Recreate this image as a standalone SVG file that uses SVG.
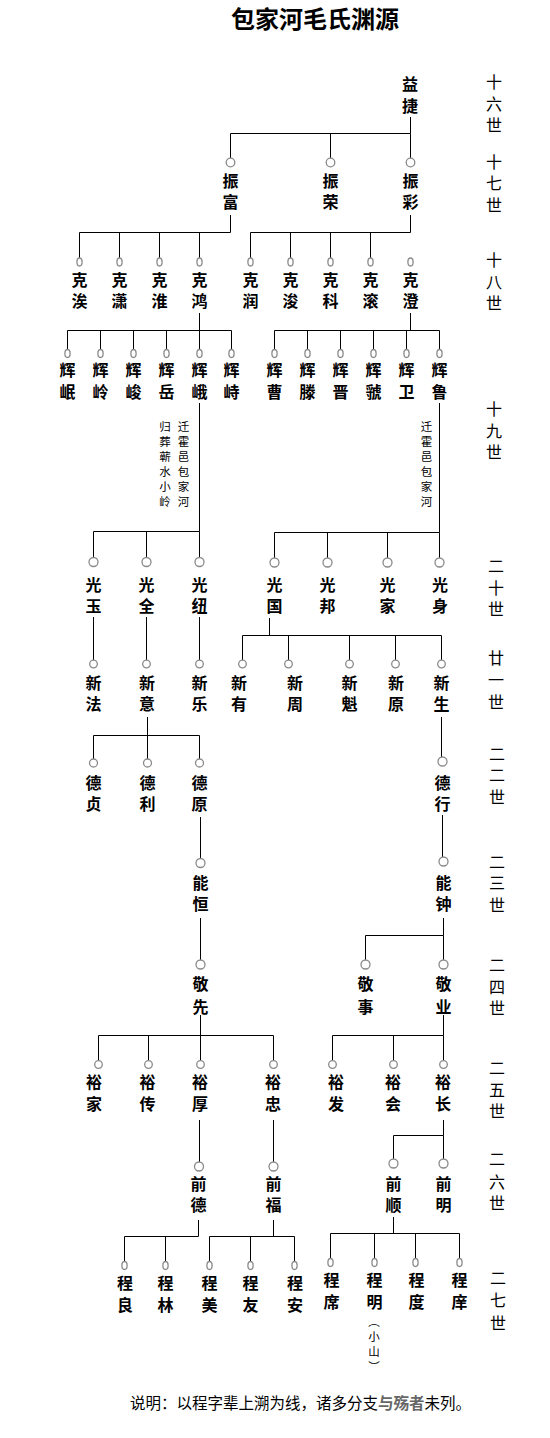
<svg xmlns="http://www.w3.org/2000/svg" width="550" height="1438" viewBox="0 0 550 1438">
<style>
text{font-family:"Noto Sans CJK SC","Noto Sans CJK TC",sans-serif;fill:#000;text-anchor:middle}
.t{font-size:24px;font-weight:700}
.n{font-size:16px;font-weight:700}
.g{font-size:16px;font-weight:400}
.a{font-size:11.5px;font-weight:400}
.s{font-size:11.5px;font-weight:400}
.note{font-size:15.5px;font-weight:400;text-anchor:start}
.gr{fill:#666;font-weight:700}
.c{fill:#fff;stroke:#8a8a8a;stroke-width:1.3}
.l{stroke:#000;stroke-width:1;fill:none}
</style>
<rect width="550" height="1438" fill="#fff"/>
<text class="t" x="315" y="28">包家河毛氏渊源</text>

<g id="generations">
<text class="g" x="494" y="88">十<tspan x="494" y="109.5">六</tspan><tspan x="494" y="131">世</tspan></text>
<text class="g" x="494" y="167.5">十<tspan x="494" y="189">七</tspan><tspan x="494" y="210.5">世</tspan></text>
<text class="g" x="494" y="266">十<tspan x="494" y="287.5">八</tspan><tspan x="494" y="309">世</tspan></text>
<text class="g" x="494" y="415">十<tspan x="494" y="436.5">九</tspan><tspan x="494" y="458">世</tspan></text>
<text class="g" x="496" y="572">二<tspan x="496" y="593.5">十</tspan><tspan x="496" y="615">世</tspan></text>
<text class="g" x="496" y="664">廿<tspan x="496" y="686">一</tspan><tspan x="496" y="708">世</tspan></text>
<text class="g" x="497" y="759.5">二<tspan x="497" y="781">二</tspan><tspan x="497" y="802.5">世</tspan></text>
<text class="g" x="497" y="867.5">二<tspan x="497" y="889">三</tspan><tspan x="497" y="910.5">世</tspan></text>
<text class="g" x="497" y="971">二<tspan x="497" y="992.5">四</tspan><tspan x="497" y="1014">世</tspan></text>
<text class="g" x="497" y="1074">二<tspan x="497" y="1095.5">五</tspan><tspan x="497" y="1117">世</tspan></text>
<text class="g" x="497" y="1165">二<tspan x="497" y="1187.5">六</tspan><tspan x="497" y="1209">世</tspan></text>
<text class="g" x="498" y="1284">二<tspan x="498" y="1306">七</tspan><tspan x="498" y="1329">世</tspan></text>
</g>

<g id="connectors">
<path class="l" d="M410.5 117V133.5M230.5 133.5H410.5M230.5 133.5V158M330.5 133.5V158M410.5 133.5V158"/>
<path class="l" d="M230.5 215V232.5M79.5 232.5H230.5M79.5 232.5V258M119.5 232.5V258M159.5 232.5V258M199.5 232.5V258"/>
<path class="l" d="M410.5 215V232.5M250.5 232.5H410.5M250.5 232.5V258M290.5 232.5V258M330.5 232.5V258M370.5 232.5V258"/>
<path class="l" d="M199.5 313V330.5M67.5 330.5H231.5M67.5 330.5V349.5M100.5 330.5V349.5M133.5 330.5V349.5M166.5 330.5V349.5M199.5 330.5V349.5M231.5 330.5V349.5"/>
<path class="l" d="M410.5 313V330.5M274.5 330.5H439.5M274.5 330.5V349.5M307.5 330.5V349.5M340.5 330.5V349.5M373.5 330.5V349.5M406.5 330.5V349.5M439.5 330.5V349.5"/>
<path class="l" d="M199.5 403V531.5M93.5 531.5H199.5M93.5 531.5V557.5M146.5 531.5V557.5M199.5 531.5V557.5"/>
<path class="l" d="M439.5 403V532.5M274.5 532.5H439.5M274.5 532.5V558M327.5 532.5V558M387.5 532.5V558M439.5 532.5V558"/>
<path class="l" d="M93.5 617V660M146.5 617V660M199.5 617V660"/>
<path class="l" d="M269.5 618V635.5M242.5 635.5H441.5M242.5 635.5V660M288.5 635.5V660M349.5 635.5V660M395.5 635.5V660M441.5 635.5V660"/>
<path class="l" d="M147.5 717V735.5M93.5 735.5H199.5M93.5 735.5V759M147.5 735.5V759M199.5 735.5V759"/>
<path class="l" d="M441.5 717V757"/>
<path class="l" d="M200.5 817V858.5M442.5 815V857"/>
<path class="l" d="M200.5 918V960"/>
<path class="l" d="M443.5 918V935.5M365.5 935.5H443.5M365.5 935.5V960M443.5 935.5V960"/>
<path class="l" d="M200.5 1015V1035.5M98.5 1035.5H273.5M98.5 1035.5V1060.5M148.5 1035.5V1060.5M200.5 1035.5V1060.5M273.5 1035.5V1060.5"/>
<path class="l" d="M443.5 1015V1035.5M332.5 1035.5H443.5M332.5 1035.5V1060.5M393.5 1035.5V1060.5M443.5 1035.5V1060.5"/>
<path class="l" d="M199.5 1120V1162M273.5 1120V1162"/>
<path class="l" d="M443.5 1120V1135.5M393.5 1135.5H443.5M393.5 1135.5V1159M443.5 1135.5V1159"/>
<path class="l" d="M198.5 1220V1236.5M124.5 1236.5H198.5M124.5 1236.5V1261.5M165.5 1236.5V1261.5"/>
<path class="l" d="M273.5 1220V1236.5M209.5 1236.5H294.5M209.5 1236.5V1261.5M250.5 1236.5V1261.5M294.5 1236.5V1261.5"/>
<path class="l" d="M393.5 1217V1233.5M330.5 1233.5H459.5M330.5 1233.5V1258.5M374.5 1233.5V1258.5M415.5 1233.5V1258.5M459.5 1233.5V1258.5"/>
</g>

<g id="n-yijie"><text class="n" x="410" y="90">益<tspan x="410" y="111.5">捷</tspan></text></g>

<g id="n-zhenfu"><circle class="c" cx="230.5" cy="162.5" r="4.3"/><text class="n" x="230.5" y="186.5">振<tspan x="230.5" y="208">富</tspan></text></g>
<g id="n-zhenrong"><circle class="c" cx="330.5" cy="162.5" r="4.3"/><text class="n" x="330.5" y="186.5">振<tspan x="330.5" y="208">荣</tspan></text></g>
<g id="n-zhencai"><circle class="c" cx="410.5" cy="162.5" r="4.3"/><text class="n" x="410.5" y="186.5">振<tspan x="410.5" y="208">彩</tspan></text></g>

<g id="n-kesi"><ellipse class="c" cx="79.5" cy="262" rx="2.6" ry="4"/><text class="n" x="79.5" y="285.5">克<tspan x="79.5" y="307">涘</tspan></text></g>
<g id="n-kexiao"><ellipse class="c" cx="119.5" cy="262" rx="2.6" ry="4"/><text class="n" x="119.5" y="285.5">克<tspan x="119.5" y="307">潇</tspan></text></g>
<g id="n-kehuai"><ellipse class="c" cx="159.5" cy="262" rx="2.6" ry="4"/><text class="n" x="159.5" y="285.5">克<tspan x="159.5" y="307">淮</tspan></text></g>
<g id="n-kehong"><ellipse class="c" cx="199.5" cy="262" rx="2.6" ry="4"/><text class="n" x="199.5" y="285.5">克<tspan x="199.5" y="307">鸿</tspan></text></g>
<g id="n-kerun"><ellipse class="c" cx="250.5" cy="262" rx="2.6" ry="4"/><text class="n" x="250.5" y="285.5">克<tspan x="250.5" y="307">润</tspan></text></g>
<g id="n-kejun"><ellipse class="c" cx="290.5" cy="262" rx="2.6" ry="4"/><text class="n" x="290.5" y="285.5">克<tspan x="290.5" y="307">浚</tspan></text></g>
<g id="n-keke"><ellipse class="c" cx="330.5" cy="262" rx="2.6" ry="4"/><text class="n" x="330.5" y="285.5">克<tspan x="330.5" y="307">科</tspan></text></g>
<g id="n-kegun"><ellipse class="c" cx="370.5" cy="262" rx="2.6" ry="4"/><text class="n" x="370.5" y="285.5">克<tspan x="370.5" y="307">滚</tspan></text></g>
<g id="n-kecheng"><ellipse class="c" cx="410.5" cy="262" rx="2.6" ry="4"/><text class="n" x="410.5" y="285.5">克<tspan x="410.5" y="307">澄</tspan></text></g>

<g id="n-huimin"><ellipse class="c" cx="67.5" cy="353.5" rx="2.6" ry="4"/><text class="n" x="67.5" y="376">辉<tspan x="67.5" y="397.5">岷</tspan></text></g>
<g id="n-huiling"><ellipse class="c" cx="100.5" cy="353.5" rx="2.6" ry="4"/><text class="n" x="100.5" y="376">辉<tspan x="100.5" y="397.5">岭</tspan></text></g>
<g id="n-huijun"><ellipse class="c" cx="133.5" cy="353.5" rx="2.6" ry="4"/><text class="n" x="133.5" y="376">辉<tspan x="133.5" y="397.5">峻</tspan></text></g>
<g id="n-huiyue"><ellipse class="c" cx="166.5" cy="353.5" rx="2.6" ry="4"/><text class="n" x="166.5" y="376">辉<tspan x="166.5" y="397.5">岳</tspan></text></g>
<g id="n-huie"><ellipse class="c" cx="199.5" cy="353.5" rx="2.6" ry="4"/><text class="n" x="199.5" y="376">辉<tspan x="199.5" y="397.5">峨</tspan></text></g>
<g id="n-huizhi"><ellipse class="c" cx="231.5" cy="353.5" rx="2.6" ry="4"/><text class="n" x="231.5" y="376">辉<tspan x="231.5" y="397.5">峙</tspan></text></g>
<g id="n-huicao"><ellipse class="c" cx="274.5" cy="353.5" rx="2.6" ry="4"/><text class="n" x="274.5" y="376">辉<tspan x="274.5" y="397.5">曹</tspan></text></g>
<g id="n-huiteng"><ellipse class="c" cx="307.5" cy="353.5" rx="2.6" ry="4"/><text class="n" x="307.5" y="376">辉<tspan x="307.5" y="397.5">滕</tspan></text></g>
<g id="n-huijin"><ellipse class="c" cx="340.5" cy="353.5" rx="2.6" ry="4"/><text class="n" x="340.5" y="376">辉<tspan x="340.5" y="397.5">晋</tspan></text></g>
<g id="n-huiguo"><ellipse class="c" cx="373.5" cy="353.5" rx="2.6" ry="4"/><text class="n" x="373.5" y="376">辉<tspan x="373.5" y="397.5">虢</tspan></text></g>
<g id="n-huiwei"><ellipse class="c" cx="406.5" cy="353.5" rx="2.6" ry="4"/><text class="n" x="406.5" y="376">辉<tspan x="406.5" y="397.5">卫</tspan></text></g>
<g id="n-huilu"><ellipse class="c" cx="439.5" cy="353.5" rx="2.6" ry="4"/><text class="n" x="439.5" y="376">辉<tspan x="439.5" y="397.5">鲁</tspan></text></g>

<g id="notes-19">
<text class="a" x="183.5" y="430.5">迁<tspan x="183.5" y="445.5">霍</tspan><tspan x="183.5" y="460.5">邑</tspan><tspan x="183.5" y="475.5">包</tspan><tspan x="183.5" y="490.5">家</tspan><tspan x="183.5" y="505.5">河</tspan></text>
<text class="a" x="165" y="430.5">归<tspan x="165" y="445.5">葬</tspan><tspan x="165" y="460.5">蕲</tspan><tspan x="165" y="475.5">水</tspan><tspan x="165" y="490.5">小</tspan><tspan x="165" y="505.5">岭</tspan></text>
<text class="a" x="426.5" y="430.5">迁<tspan x="426.5" y="445.5">霍</tspan><tspan x="426.5" y="460.5">邑</tspan><tspan x="426.5" y="475.5">包</tspan><tspan x="426.5" y="490.5">家</tspan><tspan x="426.5" y="505.5">河</tspan></text>
</g>

<g id="n-guangyu"><circle class="c" cx="93.5" cy="562" r="4.5"/><text class="n" x="93.5" y="590.5">光<tspan x="93.5" y="612">玉</tspan></text></g>
<g id="n-guangquan"><circle class="c" cx="146.5" cy="562" r="4.5"/><text class="n" x="146.5" y="590.5">光<tspan x="146.5" y="612">全</tspan></text></g>
<g id="n-guangniu"><circle class="c" cx="199.5" cy="562" r="4.5"/><text class="n" x="199.5" y="590.5">光<tspan x="199.5" y="612">纽</tspan></text></g>
<g id="n-guangguo"><circle class="c" cx="274.5" cy="562.5" r="4.5"/><text class="n" x="274.5" y="590.5">光<tspan x="274.5" y="612">国</tspan></text></g>
<g id="n-guangbang"><circle class="c" cx="327.5" cy="562.5" r="4.5"/><text class="n" x="327.5" y="590.5">光<tspan x="327.5" y="612">邦</tspan></text></g>
<g id="n-guangjia"><circle class="c" cx="387.5" cy="562.5" r="4.5"/><text class="n" x="387.5" y="590.5">光<tspan x="387.5" y="612">家</tspan></text></g>
<g id="n-guangshen"><circle class="c" cx="439.5" cy="562.5" r="4.5"/><text class="n" x="440" y="590.5">光<tspan x="440" y="612">身</tspan></text></g>

<g id="n-xinfa"><circle class="c" cx="93.5" cy="664" r="3.8"/><text class="n" x="93.5" y="688.5">新<tspan x="93.5" y="710">法</tspan></text></g>
<g id="n-xinyi"><circle class="c" cx="146.5" cy="664" r="3.8"/><text class="n" x="147" y="688.5">新<tspan x="147" y="710">意</tspan></text></g>
<g id="n-xinle"><circle class="c" cx="199.5" cy="664" r="3.8"/><text class="n" x="199.5" y="688.5">新<tspan x="199.5" y="710">乐</tspan></text></g>
<g id="n-xinyou"><circle class="c" cx="242.5" cy="664" r="3.8"/><text class="n" x="239" y="688.5">新<tspan x="239" y="710">有</tspan></text></g>
<g id="n-xinzhou"><circle class="c" cx="288.5" cy="664" r="3.8"/><text class="n" x="295" y="688.5">新<tspan x="295" y="710">周</tspan></text></g>
<g id="n-xinkui"><circle class="c" cx="349.5" cy="664" r="3.8"/><text class="n" x="349.5" y="688.5">新<tspan x="349.5" y="710">魁</tspan></text></g>
<g id="n-xinyuan"><circle class="c" cx="395.5" cy="664" r="3.8"/><text class="n" x="396" y="688.5">新<tspan x="396" y="710">原</tspan></text></g>
<g id="n-xinsheng"><circle class="c" cx="441.5" cy="664" r="3.8"/><text class="n" x="441.5" y="688.5">新<tspan x="441.5" y="710">生</tspan></text></g>

<g id="n-dezhen"><circle class="c" cx="93.5" cy="763" r="4"/><text class="n" x="93.5" y="788.5">德<tspan x="93.5" y="810">贞</tspan></text></g>
<g id="n-deli"><circle class="c" cx="147.5" cy="763" r="4"/><text class="n" x="147.5" y="788.5">德<tspan x="147.5" y="810">利</tspan></text></g>
<g id="n-deyuan"><circle class="c" cx="199.5" cy="763" r="4"/><text class="n" x="199.5" y="788.5">德<tspan x="199.5" y="810">原</tspan></text></g>
<g id="n-dexing"><circle class="c" cx="442.5" cy="761.5" r="4.5"/><text class="n" x="442.5" y="788.5">德<tspan x="442.5" y="810">行</tspan></text></g>

<g id="n-nengheng"><circle class="c" cx="200.5" cy="863" r="4.5"/><text class="n" x="200.5" y="888.5">能<tspan x="200.5" y="910">恒</tspan></text></g>
<g id="n-nengzhong"><circle class="c" cx="443.5" cy="861.5" r="4.5"/><text class="n" x="443.5" y="888.5">能<tspan x="443.5" y="910">钟</tspan></text></g>

<g id="n-jingxian"><circle class="c" cx="200.5" cy="964.5" r="4.5"/><text class="n" x="200.5" y="990">敬<tspan x="200.5" y="1013">先</tspan></text></g>
<g id="n-jingshi"><circle class="c" cx="365.5" cy="964.5" r="4.5"/><text class="n" x="365.5" y="990">敬<tspan x="365.5" y="1013">事</tspan></text></g>
<g id="n-jingye"><circle class="c" cx="443.5" cy="964.5" r="4.5"/><text class="n" x="443.5" y="990">敬<tspan x="443.5" y="1013">业</tspan></text></g>

<g id="n-yujia"><circle class="c" cx="98.5" cy="1064.5" r="3.8"/><text class="n" x="94" y="1088">裕<tspan x="94" y="1110">家</tspan></text></g>
<g id="n-yuchuan"><circle class="c" cx="148.5" cy="1064.5" r="3.8"/><text class="n" x="147.5" y="1088">裕<tspan x="147.5" y="1110">传</tspan></text></g>
<g id="n-yuhou"><circle class="c" cx="200.5" cy="1064.5" r="3.8"/><text class="n" x="200" y="1088">裕<tspan x="200" y="1110">厚</tspan></text></g>
<g id="n-yuzhong"><circle class="c" cx="273.5" cy="1064.5" r="3.8"/><text class="n" x="273" y="1088">裕<tspan x="273" y="1110">忠</tspan></text></g>
<g id="n-yufa"><circle class="c" cx="332.5" cy="1064.5" r="3.8"/><text class="n" x="336" y="1088">裕<tspan x="336" y="1110">发</tspan></text></g>
<g id="n-yuhui"><circle class="c" cx="393.5" cy="1064.5" r="3.8"/><text class="n" x="393" y="1088">裕<tspan x="393" y="1110">会</tspan></text></g>
<g id="n-yuchang"><circle class="c" cx="443.5" cy="1064.5" r="3.8"/><text class="n" x="443" y="1088">裕<tspan x="443" y="1110">长</tspan></text></g>

<g id="n-qiande"><circle class="c" cx="199" cy="1166.5" r="4.5"/><text class="n" x="198.5" y="1189.5">前<tspan x="198.5" y="1211">德</tspan></text></g>
<g id="n-qianfu"><circle class="c" cx="273.5" cy="1166.5" r="4.5"/><text class="n" x="273.5" y="1189.5">前<tspan x="273.5" y="1211">福</tspan></text></g>
<g id="n-qianshun"><circle class="c" cx="393.5" cy="1163.5" r="4.5"/><text class="n" x="393.5" y="1189.5">前<tspan x="393.5" y="1211">顺</tspan></text></g>
<g id="n-qianming"><circle class="c" cx="443.5" cy="1163.5" r="4.5"/><text class="n" x="443.5" y="1189.5">前<tspan x="443.5" y="1211">明</tspan></text></g>

<g id="n-chengliang"><ellipse class="c" cx="124.5" cy="1265.5" rx="2.6" ry="4"/><text class="n" x="125" y="1289">程<tspan x="125" y="1311">良</tspan></text></g>
<g id="n-chenglin"><ellipse class="c" cx="165.5" cy="1265.5" rx="2.6" ry="4"/><text class="n" x="165.5" y="1289">程<tspan x="165.5" y="1311">林</tspan></text></g>
<g id="n-chengmei"><ellipse class="c" cx="209.5" cy="1265.5" rx="2.6" ry="4"/><text class="n" x="209.5" y="1289">程<tspan x="209.5" y="1311">美</tspan></text></g>
<g id="n-chengyou"><ellipse class="c" cx="250.5" cy="1265.5" rx="2.6" ry="4"/><text class="n" x="250.5" y="1289">程<tspan x="250.5" y="1311">友</tspan></text></g>
<g id="n-chengan"><ellipse class="c" cx="294.5" cy="1265.5" rx="2.6" ry="4"/><text class="n" x="295" y="1289">程<tspan x="295" y="1311">安</tspan></text></g>
<g id="n-chengxi"><ellipse class="c" cx="330.5" cy="1262.5" rx="2.6" ry="4"/><text class="n" x="331.5" y="1286">程<tspan x="331.5" y="1308">席</tspan></text></g>
<g id="n-chengming"><ellipse class="c" cx="374.5" cy="1262.5" rx="2.6" ry="4"/><text class="n" x="374.5" y="1286">程<tspan x="374.5" y="1308">明</tspan></text><text class="s" x="374" y="1326">︵<tspan x="374" y="1341">小</tspan><tspan x="374" y="1356">山</tspan><tspan x="374" y="1371">︶</tspan></text></g>
<g id="n-chengdu"><ellipse class="c" cx="415.5" cy="1262.5" rx="2.6" ry="4"/><text class="n" x="416.5" y="1286">程<tspan x="416.5" y="1308">度</tspan></text></g>
<g id="n-chengxiang"><ellipse class="c" cx="459.5" cy="1262.5" rx="2.6" ry="4"/><text class="n" x="459.5" y="1286">程<tspan x="459.5" y="1308">庠</tspan></text></g>

<text class="note" x="130" y="1409">说明：以程字辈上溯为线，诸多分支<tspan class="gr">与殇者</tspan>未列。</text>
</svg>
